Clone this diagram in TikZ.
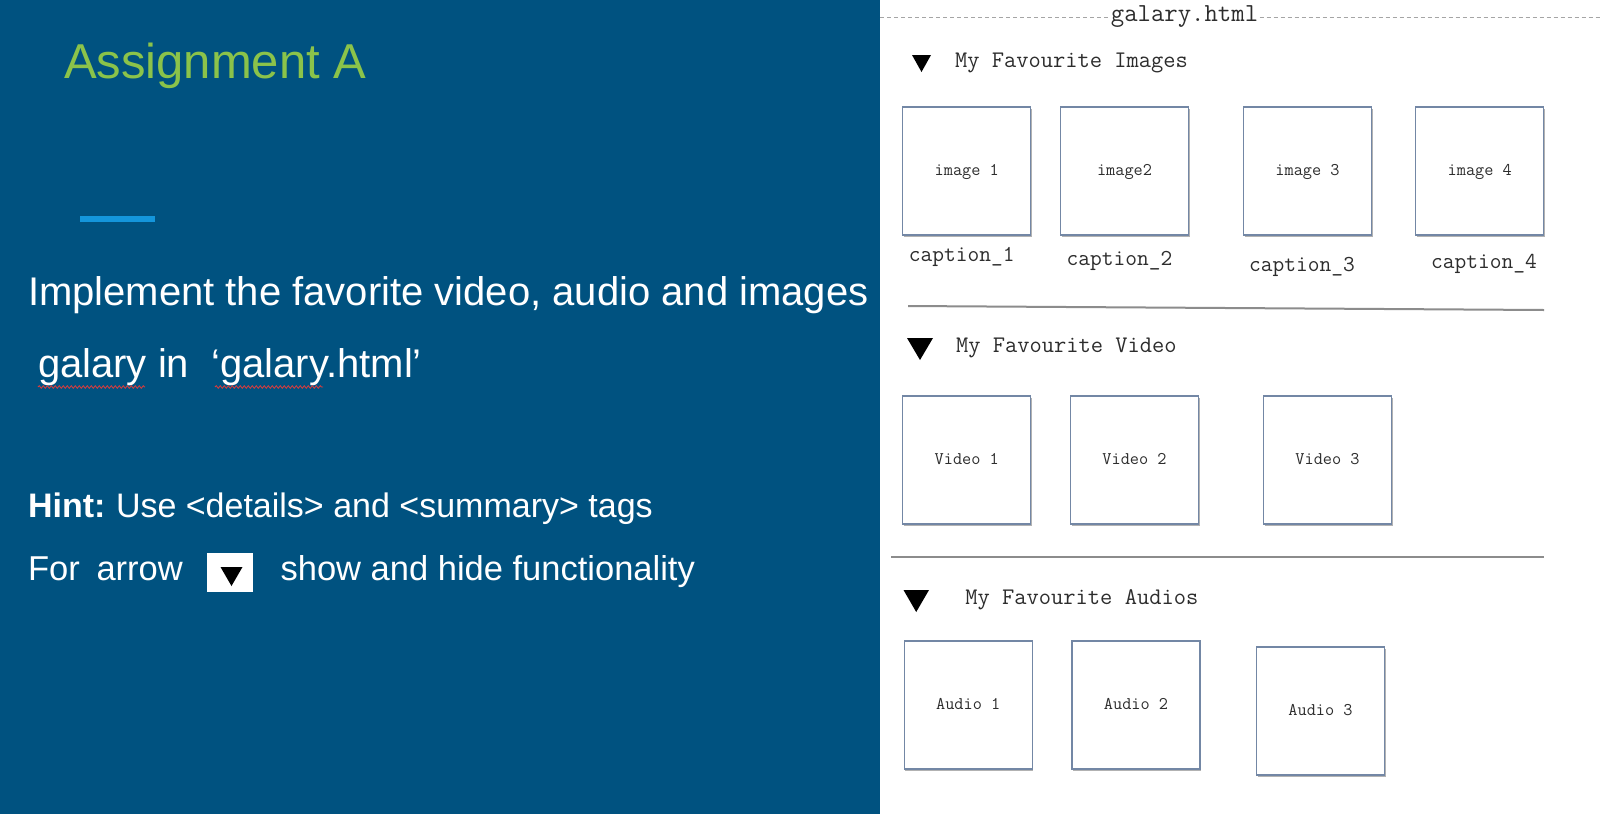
\documentclass[tikz,border=0pt]{standalone}
\usepackage{fontspec}
\setmainfont{Liberation Sans}
\usetikzlibrary{shadows,decorations.pathmorphing}
\definecolor{slideblue}{RGB}{0,82,128}
\definecolor{titlegreen}{RGB}{139,195,74}
\definecolor{accentblue}{RGB}{20,150,220}
\definecolor{boxedge}{RGB}{115,135,165}
\definecolor{rulegray}{RGB}{140,140,140}
\definecolor{dashgray}{RGB}{165,165,165}
\definecolor{monotext}{RGB}{45,45,45}
\definecolor{spellred}{RGB}{220,60,60}
\begin{document}
\begin{tikzpicture}[x=1pt,y=-1pt,
  every node/.style={inner sep=0pt,outer sep=0pt},
  slidetext/.style={anchor=base west,text=white},
  tile/.style={draw=boxedge,line width=1.2pt,fill=white,
    minimum width=128pt,minimum height=128pt,
    font=\ttfamily\fontsize{17.8}{21}\selectfont,text=monotext,
    text height=9.5pt,text depth=0pt,
    drop shadow={shadow xshift=1pt,shadow yshift=-1.5pt,opacity=0.3,fill=black}},
  caption/.style={anchor=base,font=\ttfamily\fontsize{22.8}{26}\selectfont,text=monotext},
  header/.style={anchor=base west,font=\ttfamily\fontsize{23.8}{27}\selectfont,text=monotext},
  toggle/.style={fill=black},
  divider/.style={draw=rulegray,line width=2pt},
  squiggle/.style={draw=spellred,line width=0.8pt,decorate,
    decoration={snake,amplitude=1.3pt,segment length=4pt}}
]
\useasboundingbox (0,0) rectangle (1600,814);
% panels
\fill[slideblue] (0,0) rectangle (880,814);
\fill[white] (880,0) rectangle (1600,814);

% ---- left panel ----
\node[anchor=base west,text=titlegreen,font=\fontsize{49}{58}\selectfont] (title) at (64,78) {Assignment A};
\fill[accentblue] (80,216) rectangle (155,222);

\node[slidetext,font=\fontsize{40}{48}\selectfont] (task1) at (28,305) {Implement the favorite video, audio and images};
\node[slidetext,font=\fontsize{40}{48}\selectfont] (task2) at (38,377) {galary in~~‘galary.html’};
\draw[squiggle] (38,387) -- (145,387);
\draw[squiggle] (215,387) -- (323,387);

\node[slidetext,font=\fontsize{34}{40}\selectfont] (hint) at (28,517) {\textbf{Hint:}\hspace{-2pt} Use <details> and <summary> tags};
\node[slidetext,font=\fontsize{34.5}{40}\selectfont] (forw) at (28,580) {For};
\node[slidetext,font=\fontsize{34.5}{40}\selectfont] (arrw) at (96.5,580) {arrow};
\node[fill=white,minimum width=46pt,minimum height=39pt] (hintbox) at (229.5,572.5) {};
\fill[toggle] (220.5,567) -- (242.5,567) -- (231.5,586) -- cycle;
\node[slidetext,font=\fontsize{34.5}{40}\selectfont] (showhide) at (280.6,580) {show and hide functionality};

% ---- right panel: page mock-up ----
\node[anchor=base,font=\ttfamily\fontsize{26}{30}\selectfont,text=monotext,outer sep=1.5pt] (fname) at (1184.5,21) {galary.html};
\coordinate (dl) at (880,17);
\coordinate (dr) at (1600,17);
\draw[dashgray,line width=1pt,dash pattern=on 4pt off 3pt] (dl) -- (dl -| fname.west);
\draw[dashgray,line width=1pt,dash pattern=on 4pt off 3pt] (fname.east |- dr) -- (dr);

% images section
\fill[toggle] (912,55) -- (931,55) -- (921.5,72) -- cycle;
\node[header] (himg) at (955,67.5) {My Favourite Images};
\node[tile] (img1) at (966.8,171) {image 1};
\node[tile] (img2) at (1124.5,171) {image2};
\node[tile] (img3) at (1307.5,171) {image 3};
\node[tile] (img4) at (1479.8,171) {image 4};
\node[caption] (cap1) at (961.7,261) {caption\_1};
\node[caption] (cap2) at (1119.5,265) {caption\_2};
\node[caption] (cap3) at (1302,271) {caption\_3};
\node[caption] (cap4) at (1484,268) {caption\_4};
\coordinate (s1l) at (908,306);
\coordinate (s1r) at (1544,310);
\draw[divider] (s1l) -- (s1r);

% video section
\fill[toggle] (907,338) -- (933,338) -- (920,360) -- cycle;
\node[header] (hvid) at (956,352.5) {My Favourite Video};
\node[tile] (vid1) at (966.8,460) {Video 1};
\node[tile] (vid2) at (1134.5,460) {Video 2};
\node[tile] (vid3) at (1327.5,460) {Video 3};
\coordinate (s2l) at (891,557);
\coordinate (s2r) at (1544,557);
\draw[divider] (s2l) -- (s2r);

% audio section
\fill[toggle] (903.5,590) -- (929,590) -- (916.2,612) -- cycle;
\node[header] (haud) at (965.4,604) {My Favourite Audios};
\node[tile] (aud1) at (968.2,705) {Audio 1};
\node[tile] (aud2) at (1136,705) {Audio 2};
\node[tile] (aud3) at (1320.5,711) {Audio 3};
\end{tikzpicture}
\end{document}
